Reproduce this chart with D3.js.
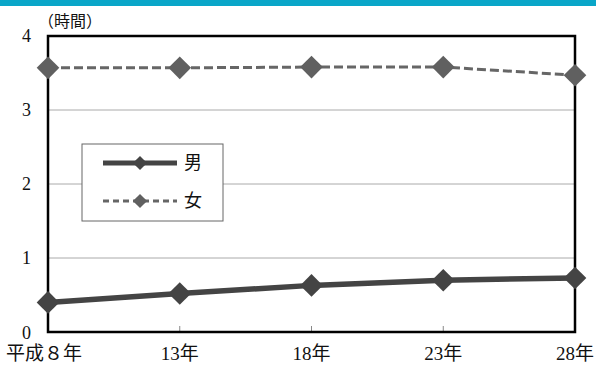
<!DOCTYPE html>
<html>
<head>
<meta charset="utf-8">
<script src="https://cdn.jsdelivr.net/npm/d3@7"></script>
<style>
  html, body { margin: 0; padding: 0; background: #fff; }
  svg { display: block; }
  text { font-family: "Liberation Serif", "Noto Sans CJK JP", serif; fill: #111; }
</style>
</head>
<body>
<svg id="chart" width="596" height="365"></svg>
<script>
// Survey years and housework-related hours per day
const years = ["平成８年", "13年", "18年", "23年", "28年"];
const male = [0.40, 0.52, 0.63, 0.70, 0.73];
const female = [3.57, 3.57, 3.58, 3.58, 3.47];
const yTicks = [0, 1, 2, 3, 4];
const seriesNames = ["男", "女"];

const W = 596, H = 365;
const m = { left: 48, right: 21, top: 36, bottom: 33 };
const svg = d3.select("#chart");

// header band
svg.append("rect").attr("x", 0).attr("y", 0).attr("width", W).attr("height", 6)
  .attr("fill", "#0aa6c8");

const x = d3.scalePoint().domain(years).range([m.left, W - m.right]);
const y = d3.scaleLinear().domain([0, 4]).range([H - m.bottom, m.top]);

// horizontal gridlines
svg.append("g").selectAll("line").data(yTicks.filter(d => d > 0 && d < 4)).join("line")
  .attr("x1", m.left).attr("x2", W - m.right)
  .attr("y1", d => y(d)).attr("y2", d => y(d))
  .attr("stroke", "#aaa").attr("stroke-width", 1);

// y-axis labels
svg.append("g").selectAll("text").data(yTicks).join("text")
  .attr("x", 31).attr("y", d => y(d) + (d === 0 ? 1 : 0)).attr("dy", "0.33em")
  .attr("text-anchor", "end").attr("font-size", 18)
  .text(d => d);

// unit label
svg.append("text").attr("x", 38).attr("y", 27)
  .attr("font-size", 16).text("（時間）");

// x-axis tick marks (inside)
svg.append("g").selectAll("line").data(years.slice(1, -1)).join("line")
  .attr("x1", d => x(d)).attr("x2", d => x(d))
  .attr("y1", y(0)).attr("y2", y(0) - 6)
  .attr("stroke", "#888").attr("stroke-width", 1);

// x-axis labels
svg.append("g").selectAll("text").data(years).join("text")
  .attr("x", (d, i) => i === 0 ? 6 : (i === years.length - 1 ? W - 2 : x(d)))
  .attr("y", 360)
  .attr("text-anchor", (d, i) => i === 0 ? "start" : (i === years.length - 1 ? "end" : "middle"))
  .attr("font-size", 19)
  .text(d => d);

const line = d3.line().x((d, i) => x(years[i])).y(d => y(d));

function drawSeries(vals, opts) {
  svg.append("path").datum(vals).attr("d", line)
    .attr("fill", "none").attr("stroke", opts.stroke)
    .attr("stroke-width", opts.width)
    .attr("stroke-dasharray", opts.dash || null);
  svg.append("g").selectAll("rect").data(vals).join("rect")
    .attr("x", -opts.size / 2).attr("y", -opts.size / 2)
    .attr("width", opts.size).attr("height", opts.size)
    .attr("fill", opts.marker)
    .attr("transform", (d, i) => `translate(${x(years[i])},${y(d)}) rotate(45)`);
}

// plot frame
svg.append("rect").attr("x", m.left).attr("y", m.top)
  .attr("width", W - m.left - m.right).attr("height", H - m.top - m.bottom)
  .attr("fill", "none").attr("stroke", "#000").attr("stroke-width", 2.5);

drawSeries(female, { stroke: "#666", width: 3, dash: "9,4", marker: "#606060", size: 16 });
drawSeries(male, { stroke: "#444", width: 5.5, marker: "#444", size: 16 });

// legend
const lg = svg.append("g");
lg.append("rect").attr("x", 82).attr("y", 144).attr("width", 141).attr("height", 77)
  .attr("fill", "#fff").attr("stroke", "#666").attr("stroke-width", 1);
const legendItems = [
  { name: seriesNames[0], y: 163, stroke: "#444", width: 5, dash: null, marker: "#444" },
  { name: seriesNames[1], y: 201, stroke: "#666", width: 3, dash: "6,4", marker: "#606060" }
];
legendItems.forEach(it => {
  lg.append("line").attr("x1", 103).attr("x2", 177).attr("y1", it.y).attr("y2", it.y)
    .attr("stroke", it.stroke).attr("stroke-width", it.width)
    .attr("stroke-dasharray", it.dash);
  lg.append("rect").attr("x", -5).attr("y", -5).attr("width", 10).attr("height", 10)
    .attr("fill", it.marker)
    .attr("transform", `translate(140,${it.y}) rotate(45)`);
  lg.append("text").attr("x", 184).attr("y", it.y).attr("dy", "0.35em")
    .attr("font-size", 18).text(it.name);
});
</script>
</body>
</html>
